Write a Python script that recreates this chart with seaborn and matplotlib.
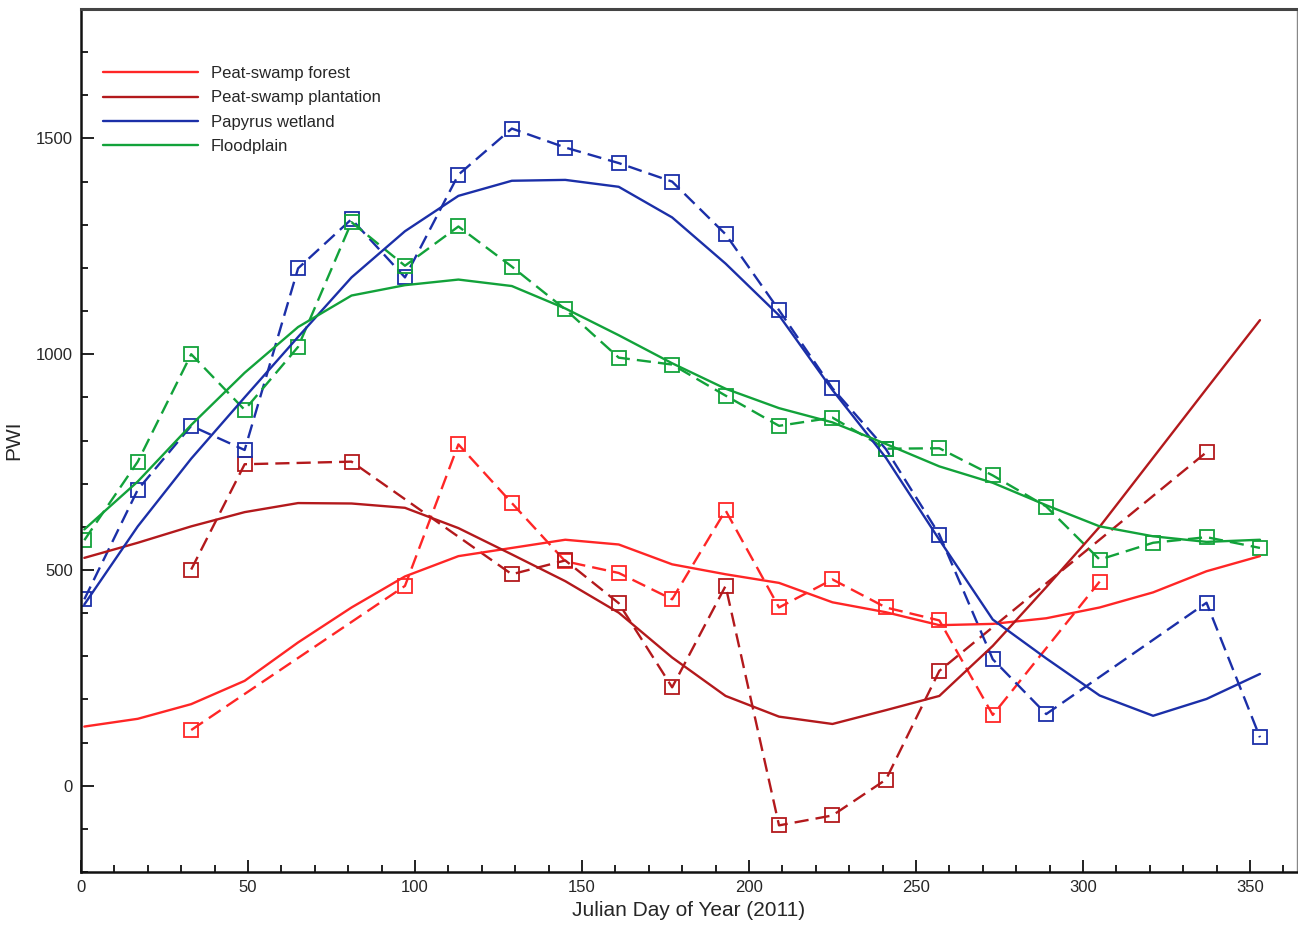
import numpy as np
import pandas as pd
import matplotlib
matplotlib.use('Agg')
import matplotlib.pyplot as plt
import seaborn as sns
from matplotlib.ticker import MultipleLocator

nan = np.nan

# ---------------------------- data ---------------------------- #
days = [1, 17, 33, 49, 65, 81, 97, 113, 129, 145, 161, 177,
        193, 209, 225, 241, 257, 273, 289, 305, 321, 337, 353]

# observed PWI (dashed, squares); nan = no observation
forest_obs = [nan, nan, 129, nan, nan, nan, 463, 791, 655, 520, 493, 432,
              638, 413, 478, 413, 383, 164, nan, 473, nan, nan, nan]
plantation_obs = [nan, nan, 501, 745, nan, 751, nan, nan, 490, 522, 423, 228,
                  463, -92, -69, 14, 266, nan, nan, nan, nan, 773, nan]
papyrus_obs = [432, 686, 834, 778, 1199, 1313, 1178, 1416, 1523, 1479, 1443, 1400,
               1278, 1102, 921, 780, 582, 293, 166, nan, nan, 424, 112]
flood_obs = [569, 751, 1000, 871, 1017, 1306, 1205, 1296, 1203, 1104, 992, 976,
             904, 834, 853, 781, 782, 719, 647, 524, 563, 576, 551]

# fitted PWI (solid)
forest_fit = [137, 155, 189, 243, 332, 413, 485, 532, 551, 570, 559, 513,
              490, 470, 425, 402, 372, 375, 388, 413, 448, 497, 532]
plantation_fit = [528, 563, 601, 634, 655, 654, 644, 597, 536, 474, 401, 297,
                  208, 160, 143, 175, 208, 324, 460, 600, 760, 920, 1079]
papyrus_fit = [420, 601, 758, 900, 1040, 1178, 1285, 1367, 1402, 1404, 1388, 1317,
               1210, 1090, 917, 760, 570, 385, 295, 209, 162, 201, 259]
flood_fit = [594, 705, 836, 957, 1063, 1136, 1160, 1173, 1158, 1106, 1044, 979,
             920, 875, 842, 792, 740, 702, 650, 601, 578, 565, 570]

labels = ['Peat-swamp forest', 'Peat-swamp plantation', 'Papyrus wetland', 'Floodplain']
colors = ['#ff2626', '#b3191c', '#1b2fa8', '#12a23a']
obs = [forest_obs, plantation_obs, papyrus_obs, flood_obs]
fits = [forest_fit, plantation_fit, papyrus_fit, flood_fit]

# ---------------------------- plot ---------------------------- #
sns.set_style('ticks')
plt.rcParams['font.family'] = ['Liberation Sans', 'DejaVu Sans']

fig = plt.figure(figsize=(12.98, 9.31), dpi=100)
ax = fig.add_axes([0.0624, 0.0634, 0.9366, 0.9269])

for lab, col, o in zip(labels, colors, obs):
    d = pd.DataFrame({'day': days, 'pwi': o}).dropna()
    sns.lineplot(data=d, x='day', y='pwi', ax=ax, color=col,
                 linestyle=(0, (6, 3)), linewidth=1.7,
                 marker='s', markersize=9.5, markerfacecolor='none',
                 markeredgecolor=col, markeredgewidth=1.3)

for lab, col, f in zip(labels, colors, fits):
    sns.lineplot(x=days, y=f, ax=ax, color=col, linewidth=1.7, label=lab)

ax.set(xlim=(0, 364), ylim=(-200, 1800))
ax.set_xlabel('Julian Day of Year (2011)', fontsize=15, labelpad=4)
ax.set_ylabel('PWI', fontsize=15, labelpad=9)

ax.xaxis.set_major_locator(MultipleLocator(50))
ax.xaxis.set_minor_locator(MultipleLocator(10))
ax.yaxis.set_major_locator(MultipleLocator(500))
ax.yaxis.set_minor_locator(MultipleLocator(100))
ax.tick_params(which='both', direction='in', labelsize=12, width=1.4, color='#222')
ax.tick_params(which='major', length=9, pad=6)
ax.tick_params(which='minor', length=5)

for s in ['left', 'bottom']:
    ax.spines[s].set_linewidth(1.8)
    ax.spines[s].set_color('#111')
ax.spines['top'].set_linewidth(2.2)
ax.spines['top'].set_color('#444')
ax.spines['right'].set_linewidth(1.0)
ax.spines['right'].set_color('#888')

ax.legend(loc='upper left', bbox_to_anchor=(0.006, 0.951), frameon=False,
          fontsize=12, handlelength=5.7, handletextpad=0.75, labelspacing=0.55)

plt.savefig('out.png', dpi=100)
